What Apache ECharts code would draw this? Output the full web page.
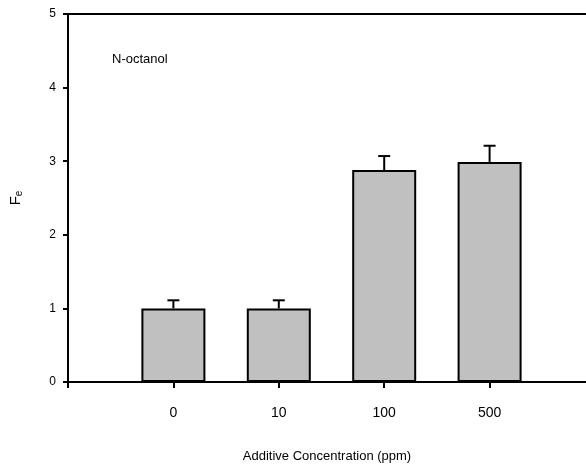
<!DOCTYPE html>
<html>
<head>
<meta charset="utf-8">
<script src="https://cdn.jsdelivr.net/npm/echarts@6/dist/echarts.min.js"></script>
<style>
  html, body { margin: 0; padding: 0; background: #fff; }
  #chart { width: 586px; height: 466px; }
</style>
</head>
<body>
<div id="chart"></div>
<script>
// data
var categories = ['0', '10', '100', '500'];
var meanValues = [1.0, 1.0, 2.88, 2.99];
var errorValues = [0.11, 0.11, 0.19, 0.22];
var yTicks = [0, 1, 2, 3, 4, 5];

var font = 'Liberation Sans, Arial, sans-serif';

var chart = echarts.init(document.getElementById('chart'));

// bars sit at x = 1..4 on a 0..5 value axis (right end runs off the canvas)
var barData = meanValues.map(function (v, i) { return [i + 1, v]; });
var errData = meanValues.map(function (v, i) { return [i + 1, v, v + errorValues[i]]; });

var option = {
    animation: false,
    title: {
        text: 'N-octanol',
        left: 107,
        top: 48,
        textStyle: { fontFamily: font, fontSize: 13, fontWeight: 'normal', color: '#000' }
    },
    grid: { left: 68, top: 14, width: 527, bottom: 84, containLabel: false, outerBoundsMode: 'none' },
    xAxis: [
        {
            type: 'value',
            min: 0,
            max: 5,
            interval: 1,
            name: 'Additive Concentration (ppm)',
            nameLocation: 'middle',
            nameGap: 68,
            nameTextStyle: { fontFamily: font, fontSize: 13, color: '#000', padding: [0, 9, 0, 0] },
            axisLine: { lineStyle: { color: '#000', width: 2 } },
            axisTick: { inside: false, length: 6, lineStyle: { color: '#000', width: 2 } },
            axisLabel: {
                fontFamily: font, fontSize: 14, color: '#000', margin: 24,
                formatter: function (v) { return categories[v - 1] || ''; }
            },
            splitLine: { show: false }
        },
        {
            type: 'value',
            position: 'top',
            min: 0,
            max: 5,
            axisLine: { show: true, lineStyle: { color: '#000', width: 2 } },
            axisTick: { show: false },
            axisLabel: { show: false },
            splitLine: { show: false }
        }
    ],
    yAxis: {
        type: 'value',
        min: yTicks[0],
        max: yTicks[yTicks.length - 1],
        interval: 1,
        name: 'F{sub|e}',
        nameLocation: 'middle',
        nameRotate: 90,
        nameGap: 44,
        nameTextStyle: {
            fontFamily: font, fontSize: 15, color: '#000',
            rich: { sub: { fontFamily: font, fontSize: 10, color: '#000', padding: [7, 0, 0, 0] } }
        },
        axisLine: { show: true, lineStyle: { color: '#000', width: 2 } },
        axisTick: { show: true, length: 5, lineStyle: { color: '#000', width: 2 } },
        axisLabel: { fontFamily: font, fontSize: 12, color: '#000', margin: 12 },
        splitLine: { show: false }
    },
    series: [
        {
            type: 'bar',
            data: barData,
            barWidth: 64,
            itemStyle: { color: '#c0c0c0', borderColor: '#000', borderWidth: 2 },
            z: 2
        },
        {
            type: 'custom',
            data: errData,
            z: 3,
            renderItem: function (params, api) {
                var bottom = api.coord([api.value(0), api.value(1)]);
                var top = api.coord([api.value(0), api.value(2)]);
                var half = 6;
                var style = { stroke: '#000', lineWidth: 2 };
                return {
                    type: 'group',
                    children: [
                        { type: 'line', shape: { x1: top[0], y1: top[1], x2: bottom[0], y2: bottom[1] }, style: style },
                        { type: 'line', shape: { x1: top[0] - half, y1: top[1], x2: top[0] + half, y2: top[1] }, style: style }
                    ]
                };
            }
        }
    ]
};

chart.setOption(option);
</script>
</body>
</html>
